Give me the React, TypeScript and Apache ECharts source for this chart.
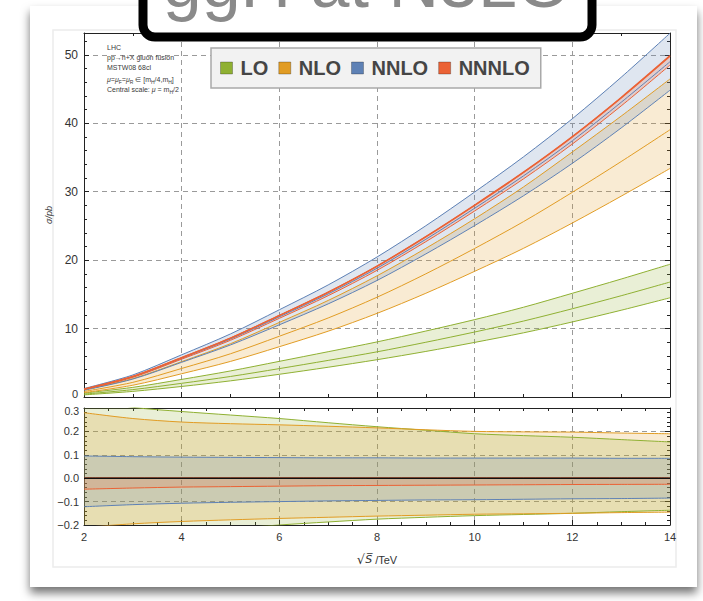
import React, { useEffect, useRef } from "react";
import * as echarts from "echarts";

// √S in TeV
const sqrtS = [2, 3, 4, 5, 6, 7, 8, 9, 10, 11, 12, 13, 14];

// Upper panel: σ / pb
const loCentral = [0.42, 1.08, 2.0, 3.0, 4.15, 5.35, 6.6, 8.0, 9.5, 11.1, 12.9, 14.8, 16.8];
const loUpper = [0.57, 1.41, 2.57, 3.81, 5.21, 6.62, 8.05, 9.64, 11.31, 13.12, 15.16, 17.24, 19.4];
const loLower = [0.31, 0.82, 1.54, 2.36, 3.32, 4.35, 5.45, 6.66, 7.98, 9.38, 10.97, 12.68, 14.5];

const nloCentral = [0.81, 2.14, 4.17, 6.32, 8.88, 11.55, 14.58, 18.0, 21.71, 25.63, 29.92, 34.41, 39.06];
const nloUpper = [1.04, 2.69, 5.17, 7.79, 10.9, 14.11, 17.71, 21.73, 26.05, 30.7, 35.81, 41.05, 46.48];
const nloLower = [0.64, 1.72, 3.4, 5.2, 7.35, 9.62, 12.22, 15.16, 18.37, 21.73, 25.43, 29.35, 33.4];

const nnloCentral = [1.13, 2.95, 5.66, 8.47, 11.72, 15.07, 18.82, 23.05, 27.59, 32.32, 37.45, 43.07, 49.0];
const nnloUpper = [1.24, 3.22, 6.17, 9.22, 12.75, 16.38, 20.46, 25.03, 29.96, 35.1, 40.67, 46.73, 53.17];
const nnloLower = [0.99, 2.62, 5.07, 7.61, 10.55, 13.61, 17.03, 20.91, 25.05, 29.41, 34.15, 39.32, 44.84];

const nnnloCentral = [1.15, 3.0, 5.75, 8.6, 11.9, 15.3, 19.1, 23.4, 28.0, 32.8, 38.0, 43.7, 49.8];
const nnnloUpper = [1.15, 3.01, 5.76, 8.62, 11.92, 15.33, 19.14, 23.45, 28.06, 32.87, 38.08, 43.79, 49.9];
const nnnloLower = [1.1, 2.87, 5.53, 8.29, 11.5, 14.81, 18.51, 22.7, 27.19, 31.88, 36.97, 42.54, 48.51];

// Lower panel: relative scale variation
const loRatioUp = [0.34, 0.303, 0.285, 0.27, 0.255, 0.237, 0.22, 0.205, 0.19, 0.182, 0.175, 0.165, 0.155];
const loRatioDown = [-0.26, -0.245, -0.23, -0.215, -0.2, -0.187, -0.175, -0.167, -0.16, -0.155, -0.15, -0.143, -0.137];
const nloRatioUp = [0.28, 0.255, 0.24, 0.233, 0.228, 0.222, 0.215, 0.207, 0.2, 0.198, 0.197, 0.193, 0.19];
const nloRatioDown = [-0.21, -0.195, -0.185, -0.178, -0.172, -0.167, -0.162, -0.158, -0.154, -0.152, -0.15, -0.147, -0.145];
const nnloRatioUp = [0.095, 0.092, 0.09, 0.089, 0.088, 0.087, 0.087, 0.086, 0.086, 0.086, 0.086, 0.085, 0.085];
const nnloRatioDown = [-0.122, -0.113, -0.107, -0.103, -0.1, -0.097, -0.095, -0.093, -0.092, -0.09, -0.088, -0.087, -0.085];
const nnnloRatioUp = [0.002, 0.002, 0.002, 0.002, 0.002, 0.002, 0.002, 0.002, 0.002, 0.002, 0.002, 0.002, 0.002];
const nnnloRatioDown = [-0.047, -0.042, -0.038, -0.036, -0.034, -0.032, -0.031, -0.03, -0.029, -0.028, -0.027, -0.0265, -0.026];

const zeroLine = [0, 0];
const zeroX = [2, 14];

const orders = ["LO", "NLO", "NNLO", "NNNLO"];
const COLORS: Record<string, string> = {
  LO: "#8FB032",
  NLO: "#E19C24",
  NNLO: "#5E81B5",
  NNNLO: "#EB6235",
};

const yTickLabels = ["0", "10", "20", "30", "40", "50"];
const ratioTickLabels = ["−0.2", "−0.1", "0.0", "0.1", "0.2", "0.3"];
const xTickLabels = ["2", "4", "6", "8", "10", "12", "14"];

const pairs = (arr: number[]) => sqrtS.map((x, i) => [x, arr[i]]);

// filled band between two curves, drawn through the axes' own coordinate mapping
function band(id: string, up: number[], dn: number[], color: string, gi: number) {
  return {
    type: "custom",
    name: id,
    xAxisIndex: gi * 2,
    yAxisIndex: gi * 2,
    silent: true,
    z: 2,
    data: [[sqrtS[0], dn[0]]],
    encode: { x: 0, y: 1 },
    renderItem: (params: any, api: any) => {
      const top = sqrtS.map((x, i) => api.coord([x, up[i]]));
      const bottom = sqrtS.map((x, i) => api.coord([x, dn[i]])).reverse();
      const cs = params.coordSys;
      return {
        type: "polygon",
        shape: { points: top.concat(bottom) },
        style: { fill: color, opacity: 0.2 },
        clipPath: {
          type: "rect",
          shape: { x: cs.x, y: cs.y, width: cs.width, height: cs.height },
        },
      };
    },
  };
}

function line(name: string, arr: number[], color: string, gi: number, width = 1) {
  return {
    type: "line",
    name,
    xAxisIndex: gi * 2,
    yAxisIndex: gi * 2,
    data: pairs(arr),
    symbol: "none",
    smooth: 0.3,
    silent: true,
    color,
    itemStyle: { color },
    lineStyle: { color, width },
    z: 5,
  };
}

const FONT = "Liberation Sans, Arial, sans-serif";
const AX = "#222";
const gridDash = { color: "#9a9a9a", type: [5, 4] as any, width: 1 };

function xAxes(gi: number, withLabels: boolean, minorSplit: number) {
  const base = {
    gridIndex: gi,
    type: "value",
    min: 2,
    max: 14,
    interval: 2,
    axisLine: { show: true, onZero: false, lineStyle: { color: AX, width: 1 } },
    axisTick: { show: true, inside: true, length: 5, lineStyle: { color: AX } },
    minorTick: { show: true, splitNumber: minorSplit, length: 3, lineStyle: { color: AX } },
  };
  return [
    {
      ...base,
      position: "bottom",
      axisLabel: {
        show: withLabels,
        color: "#333",
        fontSize: 11,
        fontFamily: FONT,
        margin: 6,
        formatter: (v: number) => xTickLabels[Math.round((v - 2) / 2)] ?? "",
      },
      splitLine: { show: true, lineStyle: gridDash },
      name: withLabels ? "{r|√}{s|S\u0305} /TeV" : "",
      nameLocation: "middle",
      nameGap: 28,
      nameTextStyle: {
        color: "#333",
        fontSize: 11,
        fontFamily: FONT,
        rich: {
          r: { fontSize: 13, color: "#333", fontFamily: "DejaVu Sans" },
          s: { fontSize: 11, color: "#333", fontStyle: "italic", fontFamily: "DejaVu Sans" },
        },
      },
    },
    { ...base, position: "top", axisLabel: { show: false }, splitLine: { show: false } },
  ];
}

export default function App() {
  const ref = useRef<HTMLDivElement>(null);

  useEffect(() => {
    if (!ref.current) return;
    const chart = echarts.init(ref.current, undefined, { renderer: "svg" });

    const series: any[] = [];
    // upper panel fills
    series.push(band("lo", loUpper, loLower, COLORS.LO, 0));
    series.push(band("nlo", nloUpper, nloLower, COLORS.NLO, 0));
    series.push(band("nnlo", nnloUpper, nnloLower, COLORS.NNLO, 0));
    series.push(band("nnnlo", nnnloUpper, nnnloLower, COLORS.NNNLO, 0));
    // lower panel fills
    series.push(band("rlo", loRatioUp, loRatioDown, COLORS.LO, 1));
    series.push(band("rnlo", nloRatioUp, nloRatioDown, COLORS.NLO, 1));
    series.push(band("rnnlo", nnloRatioUp, nnloRatioDown, COLORS.NNLO, 1));
    series.push(band("rnnnlo", nnnloRatioUp, nnnloRatioDown, COLORS.NNNLO, 1));

    // upper panel lines
    series.push(line("LO-up", loUpper, COLORS.LO, 0));
    series.push(line("LO", loCentral, COLORS.LO, 0));
    series.push(line("LO-dn", loLower, COLORS.LO, 0));
    series.push(line("NLO-up", nloUpper, COLORS.NLO, 0));
    series.push(line("NLO", nloCentral, COLORS.NLO, 0));
    series.push(line("NLO-dn", nloLower, COLORS.NLO, 0));
    series.push(line("NNLO-up", nnloUpper, COLORS.NNLO, 0));
    series.push(line("NNLO", nnloCentral, COLORS.NNLO, 0));
    series.push(line("NNLO-dn", nnloLower, COLORS.NNLO, 0));
    series.push(line("NNNLO-dn", nnnloLower, COLORS.NNNLO, 0));
    series.push(line("NNNLO-up", nnnloUpper, COLORS.NNNLO, 0, 1.3));
    series.push(line("NNNLO", nnnloCentral, COLORS.NNNLO, 0, 1.3));

    // lower panel lines
    series.push(line("rLO-up", loRatioUp, COLORS.LO, 1));
    series.push(line("rLO-dn", loRatioDown, COLORS.LO, 1));
    series.push(line("rNLO-up", nloRatioUp, COLORS.NLO, 1));
    series.push(line("rNLO-dn", nloRatioDown, COLORS.NLO, 1));
    series.push(line("rNNLO-up", nnloRatioUp, COLORS.NNLO, 1));
    series.push(line("rNNLO-dn", nnloRatioDown, COLORS.NNLO, 1));
    series.push(line("rNNNLO-up", nnnloRatioUp, COLORS.NNNLO, 1));
    series.push(line("rNNNLO-dn", nnnloRatioDown, COLORS.NNNLO, 1));
    series.push({
      type: "line",
      name: "zero",
      xAxisIndex: 2,
      yAxisIndex: 2,
      data: zeroX.map((x, i) => [x, zeroLine[i]]),
      symbol: "none",
      silent: true,
      lineStyle: { color: "#111", width: 1.6 },
      z: 6,
    });

    const annot = [
      "LHC",
      "pp→h+X gluon fusion",
      "MSTW08 68cl",
      "{i|μ=μ}{sub|F}{i|=μ}{sub|R} ∈ [m{sub|H}/4,m{sub|H}]",
      "Central scale: {i|μ} = m{sub|H}/2",
    ];

    const option: any = {
      animation: false,
      backgroundColor: "#ffffff",
      textStyle: { fontFamily: FONT },
      grid: [
        { left: 84, top: 33, width: 586, height: 364, show: false },
        { left: 84, top: 408, width: 586, height: 117, show: false },
      ],
      legend: {
        data: orders,
        left: 211,
        top: 48,
        orient: "horizontal",
        icon: "rect",
        itemWidth: 12,
        itemHeight: 12,
        itemGap: 10,
        padding: [10, 11, 10, 9],
        backgroundColor: "#f2f2f2",
        borderColor: "#a9a9a9",
        borderWidth: 1.5,
        selectedMode: false,
        itemStyle: { borderColor: "rgba(0,0,0,0.25)", borderWidth: 1 },
        textStyle: {
          fontSize: 20,
          fontWeight: "bold",
          color: "#454545",
          fontFamily: FONT,
          padding: [0, 0, 0, 3],
        },
        z: 20,
      },
      xAxis: [...xAxes(0, false, 2), ...xAxes(1, true, 4)],
      yAxis: [
        {
          gridIndex: 0,
          type: "value",
          min: 0,
          max: 53.2,
          interval: 10,
          position: "left",
          axisLine: { show: true, lineStyle: { color: AX, width: 1 } },
          axisTick: { show: true, inside: true, length: 5, lineStyle: { color: AX } },
          minorTick: { show: true, splitNumber: 5, length: 3, lineStyle: { color: AX } },
          splitLine: { show: true, lineStyle: gridDash },
          axisLabel: {
            color: "#333",
            fontSize: 12,
            fontFamily: FONT,
            margin: 6,
            showMaxLabel: false,
            formatter: (v: number) => {
              const t = yTickLabels[Math.round(v / 10)] ?? "";
              return v === 0 ? "{z|" + t + "}" : t;
            },
            rich: {
              z: { fontSize: 11, color: "#333", lineHeight: 9, padding: [0, 0, 6, 0] },
            },
          },
          name: "σ/pb",
          nameLocation: "middle",
          nameGap: 24,
          nameRotate: 90,
          nameTextStyle: { color: "#333", fontSize: 9, fontStyle: "italic", fontFamily: FONT },
        },
        {
          gridIndex: 0,
          type: "value",
          min: 0,
          max: 53.2,
          interval: 10,
          position: "right",
          axisLine: { show: true, lineStyle: { color: AX, width: 1 } },
          axisTick: { show: true, inside: true, length: 5, lineStyle: { color: AX } },
          minorTick: { show: true, splitNumber: 5, length: 3, lineStyle: { color: AX } },
          splitLine: { show: false },
          axisLabel: { show: false },
        },
        {
          gridIndex: 1,
          type: "value",
          min: -0.2,
          max: 0.3,
          interval: 0.1,
          position: "left",
          axisLine: { show: true, lineStyle: { color: AX, width: 1 } },
          axisTick: { show: true, inside: true, length: 5, lineStyle: { color: AX } },
          minorTick: { show: true, splitNumber: 5, length: 3, lineStyle: { color: AX } },
          splitLine: { show: true, lineStyle: gridDash },
          axisLabel: {
            color: "#333",
            fontSize: 11,
            fontFamily: FONT,
            margin: 5,
            formatter: (v: number) => {
              const t = ratioTickLabels[Math.round((v + 0.2) * 10)] ?? "";
              return Math.abs(v - 0.3) < 1e-6 ? "{t|" + t + "}" : t;
            },
            rich: {
              t: { fontSize: 10.5, color: "#333", lineHeight: 9, padding: [5, 0, 0, 0] },
            },
          },
        },
        {
          gridIndex: 1,
          type: "value",
          min: -0.2,
          max: 0.3,
          interval: 0.1,
          position: "right",
          axisLine: { show: true, lineStyle: { color: AX, width: 1 } },
          axisTick: { show: true, inside: true, length: 5, lineStyle: { color: AX } },
          minorTick: { show: true, splitNumber: 5, length: 3, lineStyle: { color: AX } },
          splitLine: { show: false },
          axisLabel: { show: false },
        },
      ],
      graphic: [
        // card with shadow
        {
          type: "rect",
          z: -20,
          silent: true,
          shape: { x: 30, y: 6, width: 667, height: 581 },
          style: {
            fill: "#ffffff",
            shadowBlur: 10,
            shadowColor: "rgba(0,0,0,0.55)",
            shadowOffsetY: 6,
          },
        },
        {
          type: "rect",
          z: -19,
          silent: true,
          shape: { x: 53, y: 30, width: 623, height: 537 },
          style: { fill: "#ffffff", stroke: "#ececec", lineWidth: 1.5 },
        },
        // annotation block
        ...annot.map((t, i) => ({
          type: "text",
          z: 10,
          silent: true,
          x: 107,
          y: [44, 54, 64, 75, 85][i],
          style: {
            text: t,
            fill: "#3a3a3a",
            fontSize: 7,
            fontFamily: FONT,
            rich: {
              i: { fontSize: 7, fontStyle: "italic", fill: "#3a3a3a" },
              sub: { fontSize: 5, fill: "#3a3a3a", padding: [4, 0, 0, 0] },
            },
          },
        })),
        // title box
        {
          type: "rect",
          z: 100,
          silent: true,
          shape: { x: 143, y: -80, width: 449, height: 117, r: 12 },
          style: { fill: "#ffffff", stroke: "#000000", lineWidth: 9 },
        },
        {
          type: "text",
          z: 101,
          silent: true,
          x: 367,
          y: 18,
          style: {
            text: "ggH at N3LO",
            fill: "#8a8a8a",
            fontSize: 70,
            fontFamily: FONT,
            textAlign: "center",
            textVerticalAlign: "bottom",
          },
        },
      ],
      series,
    };

    chart.setOption(option);
    return () => chart.dispose();
  }, []);

  return (
    <div
      ref={ref}
      style={{ position: "absolute", left: 0, top: 0, width: 703, height: 601 }}
    />
  );
}
